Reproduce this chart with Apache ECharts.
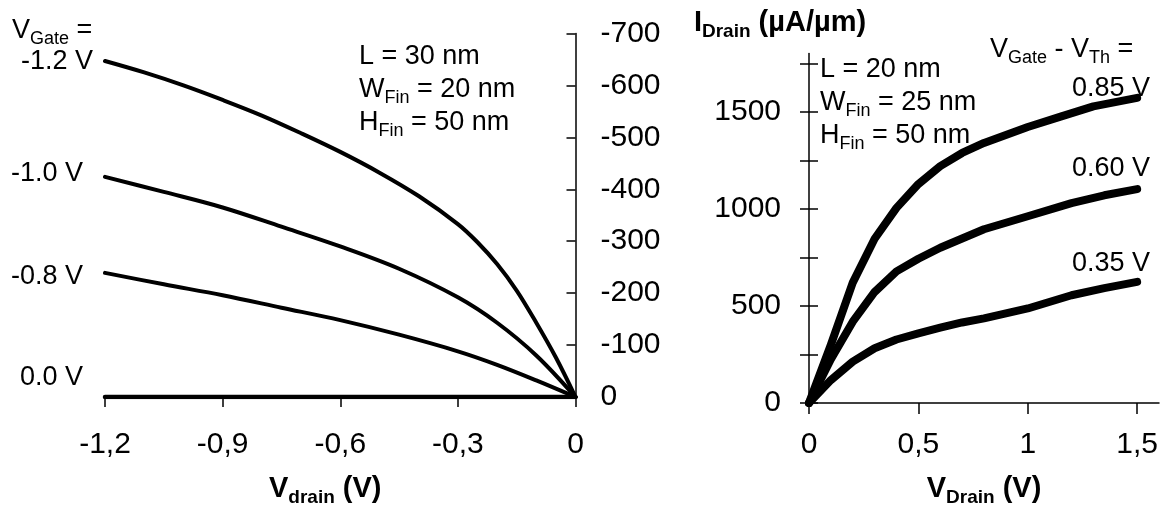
<!DOCTYPE html>
<html>
<head>
<meta charset="utf-8">
<script src="https://cdn.jsdelivr.net/npm/echarts@6/dist/echarts.min.js"></script>
<style>html,body{margin:0;padding:0;background:#fff}#c{width:1166px;height:512px}</style>
</head>
<body>
<div id="c"></div>
<script>
// ---- Left panel (p-type FinFET, negative bias) ----
const leftXTicks = [-1.2, -0.9, -0.6, -0.3, 0];
const leftGateLabels = ['-1.2 V', '-1.0 V', '-0.8 V', '0.0 V'];
const leftVg12 = [[-1.2,-647],[-1.1,-625],[-1.0,-600],[-0.9,-572],[-0.8,-542],[-0.7,-508],[-0.6,-472],[-0.5,-432],[-0.4,-387],[-0.3,-333],[-0.25,-298],[-0.2,-256],[-0.15,-205],[-0.1,-143],[-0.05,-76],[0,0]];
const leftVg10 = [[-1.2,-424],[-1.05,-395],[-0.9,-365],[-0.75,-328],[-0.6,-290],[-0.45,-247],[-0.3,-192],[-0.2,-143],[-0.1,-80],[0,0]];
const leftVg08 = [[-1.2,-239],[-1.05,-217],[-0.9,-196],[-0.75,-172],[-0.6,-148],[-0.45,-120],[-0.3,-88],[-0.2,-62],[-0.1,-32],[0,0]];
const leftVg00 = [[-1.2,0],[0,0]];
// ---- Right panel (n-type FinFET) ----
const rightXTicks = [0, 0.5, 1, 1.5];
const rightYTicks = [0, 250, 500, 750, 1000, 1250, 1500, 1750];
const rightYLabels = [0, 500, 1000, 1500];
const rightOverdriveLabels = ['0.85 V', '0.60 V', '0.35 V'];
const rightV085 = [[0,0],[0.1,300],[0.2,620],[0.3,846],[0.4,1005],[0.5,1128],[0.6,1220],[0.7,1288],[0.8,1340],[1.0,1422],[1.15,1475],[1.3,1528],[1.5,1572]];
const rightV060 = [[0,0],[0.1,225],[0.2,419],[0.3,572],[0.4,678],[0.5,743],[0.6,800],[0.8,895],[1.0,962],[1.2,1030],[1.35,1070],[1.5,1102]];
const rightV035 = [[0,0],[0.1,118],[0.2,213],[0.3,282],[0.4,327],[0.5,359],[0.6,388],[0.7,415],[0.8,436],[1.0,487],[1.2,555],[1.35,592],[1.5,624]];

const NAVY = '#1b2a50';
const FONT = '"Liberation Sans", Arial, sans-serif';
const fmtComma = v => (Math.abs(v) < 1e-9 ? '0' : String(+v.toFixed(2)).replace('.', ','));

function sub(color, size, subSize, bold) {
  return {
    b: {fontFamily: FONT, fontSize: size, color: color, lineHeight: size + 8, fontWeight: bold ? 'bold' : 'normal'},
    s: {fontFamily: FONT, fontSize: subSize, color: color, lineHeight: subSize - 2, verticalAlign: 'bottom', fontWeight: bold ? 'bold' : 'normal'}
  };
}

const chart = echarts.init(document.getElementById('c'), null, {renderer: 'canvas'});
const line = (data, xi, yi, w) => ({
  type: 'line', data: data, xAxisIndex: xi, yAxisIndex: yi, showSymbol: false, symbol: 'none',
  smooth: xi === 0 ? 0.35 : false, z: 5,
  lineStyle: {color: '#000', width: w, cap: 'round', join: 'round'}, animation: false
});

const txt = (x, y, text, rich, align) => ({
  type: 'text', x: x, y: y, z: 10,
  style: {text: text, rich: rich, align: align || 'left', verticalAlign: 'middle', fontFamily: FONT}
});
const navyRich = sub(NAVY, 27, 18, false);
const blackRich = sub('#000', 27, 18, false);
const nameRich = sub('#000', 29, 19, true);
const tickFont = {fontFamily: FONT, fontSize: 30, color: '#000'};

chart.setOption({
  animation: false,
  backgroundColor: '#fff',
  grid: [
    {left: 105, top: 33.5, width: 470.5, height: 365.5},
    {left: 809, top: 53.6, width: 350, height: 351.4}
  ],
  xAxis: [
    {gridIndex: 0, type: 'value', min: -1.2, max: 0, interval: 0.3,
     name: '{b|V}{s|drain}{b| (V)}', nameLocation: 'middle', nameGap: 73,
     nameTextStyle: {rich: nameRich, padding: [0, 30, 0, 0]},
     axisLine: {show: true, onZero: false, lineStyle: {color: '#000', width: 1.5}},
     axisTick: {show: true, length: 10, lineStyle: {color: '#000', width: 1.5}},
     axisLabel: Object.assign({margin: 33, formatter: fmtComma}, tickFont),
     splitLine: {show: false}},
    {gridIndex: 1, type: 'value', min: 0, max: 1.6,
     name: '{b|V}{s|Drain}{b| (V)}', nameLocation: 'middle', nameGap: 67,
     nameTextStyle: {rich: nameRich},
     axisLine: {show: true, onZero: false, lineStyle: {color: '#000', width: 1.5}},
     axisTick: {show: true, length: 11, customValues: rightXTicks, lineStyle: {color: '#000', width: 1.5}},
     axisLabel: Object.assign({margin: 27, customValues: rightXTicks, formatter: fmtComma}, tickFont),
     splitLine: {show: false}},
    {gridIndex: 1, type: 'value', min: 0, max: 1.6,
     axisLine: {show: false},
     axisTick: {show: true, inside: true, length: 11, customValues: rightXTicks, lineStyle: {color: '#000', width: 1.5}},
     axisLabel: {show: false}, splitLine: {show: false}}
  ],
  yAxis: [
    {gridIndex: 0, type: 'value', position: 'right', inverse: true, min: -700, max: 0, interval: 100,
     axisLine: {show: true, onZero: false, lineStyle: {color: '#000', width: 1.5}},
     axisTick: {show: true, inside: true, length: 9, lineStyle: {color: '#000', width: 1.5}},
     axisLabel: Object.assign({margin: 25, formatter: v => String(v)}, tickFont),
     splitLine: {show: false}},
    {gridIndex: 1, type: 'value', position: 'left', min: 0, max: 1800,
     name: '{b|I}{s|Drain}{b| (µA/µm)}', nameLocation: 'end', nameGap: 12,
     nameTextStyle: {rich: nameRich, align: 'center', padding: [0, 58, 0, 0]},
     axisLine: {show: true, onZero: false, lineStyle: {color: '#000', width: 1.5}},
     axisTick: {show: true, length: 9, customValues: rightYTicks, lineStyle: {color: '#000', width: 1.5}},
     axisLabel: Object.assign({margin: 28, customValues: rightYLabels, formatter: v => String(v)}, tickFont),
     splitLine: {show: false}},
    {gridIndex: 1, type: 'value', position: 'left', min: 0, max: 1800,
     axisLine: {show: false},
     axisTick: {show: true, inside: true, length: 9, customValues: rightYTicks, lineStyle: {color: '#000', width: 1.5}},
     axisLabel: {show: false}, splitLine: {show: false}}
  ],
  series: [
    line(leftVg12, 0, 0, 4),
    line(leftVg10, 0, 0, 4),
    line(leftVg08, 0, 0, 4),
    line(leftVg00, 0, 0, 4.5),
    line(rightV085, 1, 1, 8),
    line(rightV060, 1, 1, 8),
    line(rightV035, 1, 1, 8)
  ],
  graphic: [
    txt(12, 31, '{b|V}{s|Gate}{b| =}', navyRich),
    txt(93, 62, '{b|' + leftGateLabels[0] + '}', navyRich, 'right'),
    txt(83, 174, '{b|' + leftGateLabels[1] + '}', navyRich, 'right'),
    txt(83, 277, '{b|' + leftGateLabels[2] + '}', navyRich, 'right'),
    txt(83, 378, '{b|' + leftGateLabels[3] + '}', navyRich, 'right'),
    txt(359, 57, '{b|L = 30 nm}', navyRich),
    txt(359, 90, '{b|W}{s|Fin}{b| = 20 nm}', navyRich),
    txt(359, 123, '{b|H}{s|Fin}{b| = 50 nm}', navyRich),
    txt(820, 70, '{b|L = 20 nm}', navyRich),
    txt(820, 103, '{b|W}{s|Fin}{b| = 25 nm}', navyRich),
    txt(820, 136, '{b|H}{s|Fin}{b| = 50 nm}', navyRich),
    txt(990, 50, '{b|V}{s|Gate}{b| - V}{s|Th}{b| =}', blackRich),
    txt(1150, 89, '{b|' + rightOverdriveLabels[0] + '}', blackRich, 'right'),
    txt(1150, 169, '{b|' + rightOverdriveLabels[1] + '}', blackRich, 'right'),
    txt(1150, 264, '{b|' + rightOverdriveLabels[2] + '}', blackRich, 'right')
  ]
});
</script>
</body>
</html>
